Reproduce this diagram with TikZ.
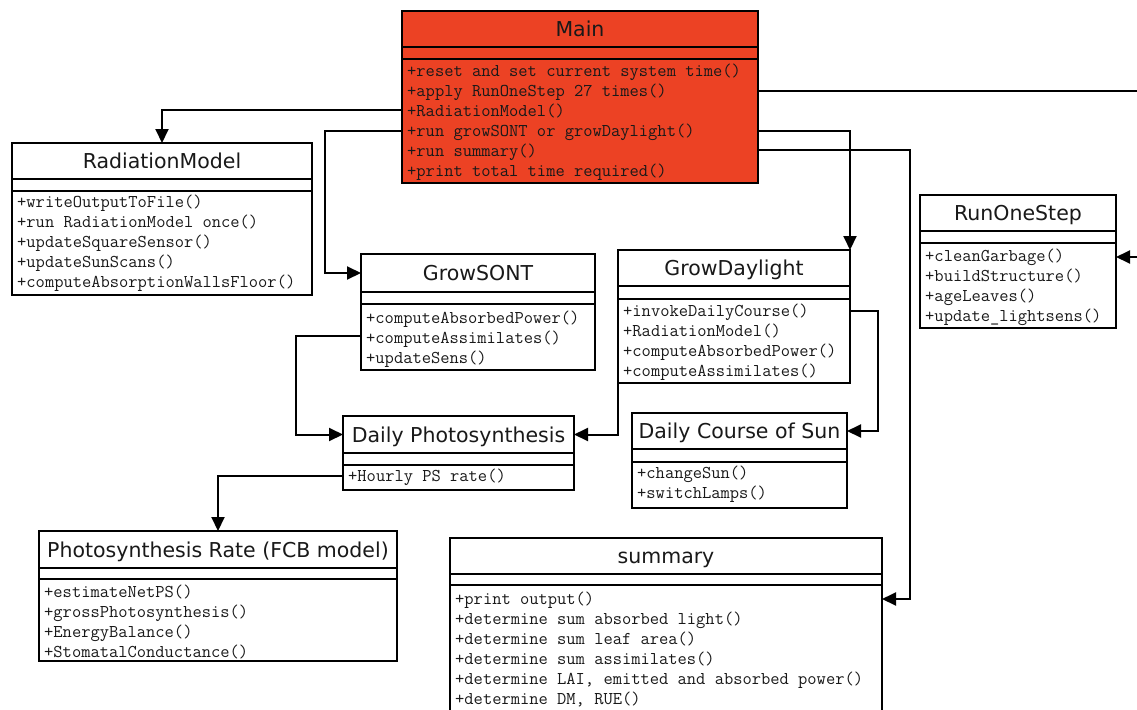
\documentclass[tikz,border=0pt]{standalone}
\usepackage{fontspec}
\usetikzlibrary{arrows.meta}
\newfontfamily\titlefont{DejaVu Sans}
\definecolor{mainred}{HTML}{EC4224}
\tikzset{
  classbox/.style={draw=black, line width=2.3pt, inner sep=0pt, outer sep=0pt},
  sepline/.style={draw=black, line width=2.3pt},
  classtitle/.style={font=\titlefont\fontsize{20.5}{24}\selectfont, inner sep=0pt, text=black!90},
  method/.style={font=\ttfamily\fontsize{18}{20}\selectfont, inner sep=0pt, text=black!90},
  conn/.style={draw=black, line width=2pt, line join=miter, -{Triangle[length=14pt,width=13pt]}},
}
% #1 name, #2 x1, #3 y1, #4 x2, #5 title bottom, #6 empty bottom, #7 bottom, #8 title, #9 fill
\newcommand{\umlclass}[9]{%
  \node[classbox, fill=#9, anchor=north west, minimum width={(#4-#2)*1pt}, minimum height={(#7-#3)*1pt}] (#1) at (#2,#3) {};
  \draw[sepline] (#1.west |- 0,#5) -- (#1.east |- 0,#5);
  \draw[sepline] (#1.west |- 0,#6) -- (#1.east |- 0,#6);
  \coordinate (#1-tc) at ({(#2+#4)/2},{(#3+#5)/2});
  \node[classtitle, anchor=base] (#1-t) at ({(#2+#4)/2},{(#3+#5)/2+7.5}) {#8};
}
% #1 name prefix, #2 x1, #3 first row centre, #4 list
\newcommand{\umlmethods}[4]{%
  \foreach \m [count=\i from 0] in {#4} {
    \node[method, anchor=base west] (#1-m\i) at ({#2+5},{#3+5+20*\i}) {\m};
  }
}
\begin{document}
\begin{tikzpicture}[x=1pt,y=-1pt]
\fill[white] (0,0) rectangle (1137,709);
\useasboundingbox (0,0) rectangle (1137,709);

\umlclass{main}{402}{11}{758}{47}{59}{183}{Main}{mainred}
\umlmethods{main}{402}{71}{+reset and set current system time(),+apply RunOneStep 27 times(),+RadiationModel(),+run growSONT or growDaylight(),+run summary(),+print total time required()}

\umlclass{radm}{12}{143}{312}{179}{191}{295}{RadiationModel}{white}
\umlmethods{radm}{12}{202}{+writeOutputToFile(),+run RadiationModel once(),+updateSquareSensor(),+updateSunScans(),+computeAbsorptionWallsFloor()}

\umlclass{gsont}{361}{254}{595}{292}{304}{370}{GrowSONT}{white}
\umlmethods{gsont}{361}{318}{+computeAbsorbedPower(),+computeAssimilates(),+updateSens()}

\umlclass{gd}{618}{250}{850}{286}{299}{383}{GrowDaylight}{white}
\umlmethods{gd}{618}{311}{+invokeDailyCourse(),+RadiationModel(),+computeAbsorbedPower(),+computeAssimilates()}

\umlclass{ros}{920}{195}{1116}{231}{243}{328}{RunOneStep}{white}
\umlmethods{ros}{920}{256}{+cleanGarbage(),+buildStructure(),+ageLeaves(),+update\_lightsens()}

\umlclass{dp}{343}{416}{574}{453}{465}{490}{Daily Photosynthesis}{white}
\umlmethods{dp}{343}{476}{+Hourly PS rate()}

\umlclass{dcs}{632}{413}{847}{449}{462}{508}{Daily Course of Sun}{white}
\umlmethods{dcs}{632}{473}{+changeSun(),+switchLamps()}

\umlclass{pr}{39}{531}{397}{568}{579}{661}{Photosynthesis Rate (FCB model)}{white}
\umlmethods{pr}{39}{592}{+estimateNetPS(),+grossPhotosynthesis(),+EnergyBalance(),+StomatalConductance()}

\umlclass{summ}{450}{538}{882}{574}{585}{730}{summary}{white}
\umlmethods{summ}{450}{599}{+print output(),+determine sum absorbed light(),+determine sum leaf area(),+determine sum assimilates(),{+determine LAI, emitted and absorbed power()},{+determine DM, RUE()}}

% connectors
\draw[conn] (main.west |- 0,110) -| (radm.north);
\draw[conn] (main.west |- 0,131) -- (325,131) |- (gsont.west |- gsont-tc);
\draw[conn] (main.east |- 0,91) -- (1160,91) |- (ros.east |- 0,257);
\draw[conn] (main.east |- 0,131) -| (gd.north east);
\draw[conn] (main.east |- 0,150) -- (910,150) |- (summ.east |- 0,599);
\draw[conn] (gsont.west |- 0,336) -- (296,336) |- (dp.west |- dp-tc);
\draw[conn] (gd.south west) |- (dp.east |- dp-tc);
\draw[conn] (gd.east |- 0,311) -- (878,311) |- (dcs.east |- dcs-tc);
\draw[conn] (dp.west |- 0,476) -| (pr.north);
\end{tikzpicture}
\end{document}
